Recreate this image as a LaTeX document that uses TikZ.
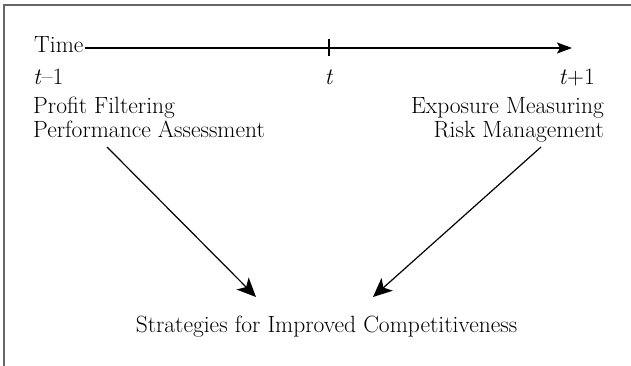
\documentclass[tikz,border=0pt]{standalone}
\usepackage{fontspec}
\setmainfont{Latin Modern Roman}
\usetikzlibrary{arrows.meta}
\begin{document}
\begin{tikzpicture}[x=1pt,y=-1pt,
  lbl/.style={inner sep=0pt, font=\fontsize{23.5}{23.5}\selectfont},
  frameline/.style={draw=black!60, line width=2pt},
  axis/.style={line width=1.4pt, -{Stealth[length=15pt,width=11pt,inset=3pt]}},
  flow/.style={line width=1.2pt, -{Stealth[length=19pt,width=17pt,inset=5pt]}}]
  \useasboundingbox (0,0) rectangle (631,366);
  % partial frame: top and left edges
  \draw[frameline] (4,366) -- (4,5) -- (631,5);

  % time axis
  \node[lbl, anchor=base west] (time) at (34,53) {Time};
  \coordinate (axisend) at (572,48);
  \coordinate (tickmid) at (329,48);
  \draw[axis] (time.east |- axisend) ++(1,0) -- (axisend);
  \draw[line width=1.2pt] ([yshift=-8pt]tickmid) -- ([yshift=9pt]tickmid);

  % period labels
  \node[lbl, anchor=base west] (tprev) at (33,85) {\textit{t}--1};
  \node[lbl, anchor=base] (tnow) at (329,85) {\textit{t}};
  \node[lbl, anchor=base east] (tnext) at (595,85) {\textit{t}+1};

  % activities at each end (base anchor sits on the last line)
  \node[lbl, anchor=base west, align=left] (past) at (33,137.5)
    {Profit Filtering\\Performance Assessment};
  \node[lbl, anchor=base east, align=right] (future) at (604,137.5)
    {Exposure Measuring\\Risk Management};

  % outcome
  \node[lbl, anchor=base] (goal) at (326.5,332)
    {Strategies for Improved Competitiveness};

  % converging arrows
  \coordinate (pastfoot) at (107,147);
  \coordinate (futurefoot) at (541,147);
  \coordinate (goalleft) at (256,297);
  \coordinate (goalright) at (373,297);
  \draw[flow] (pastfoot) -- (goalleft);
  \draw[flow] (futurefoot) -- (goalright);
\end{tikzpicture}
\end{document}
